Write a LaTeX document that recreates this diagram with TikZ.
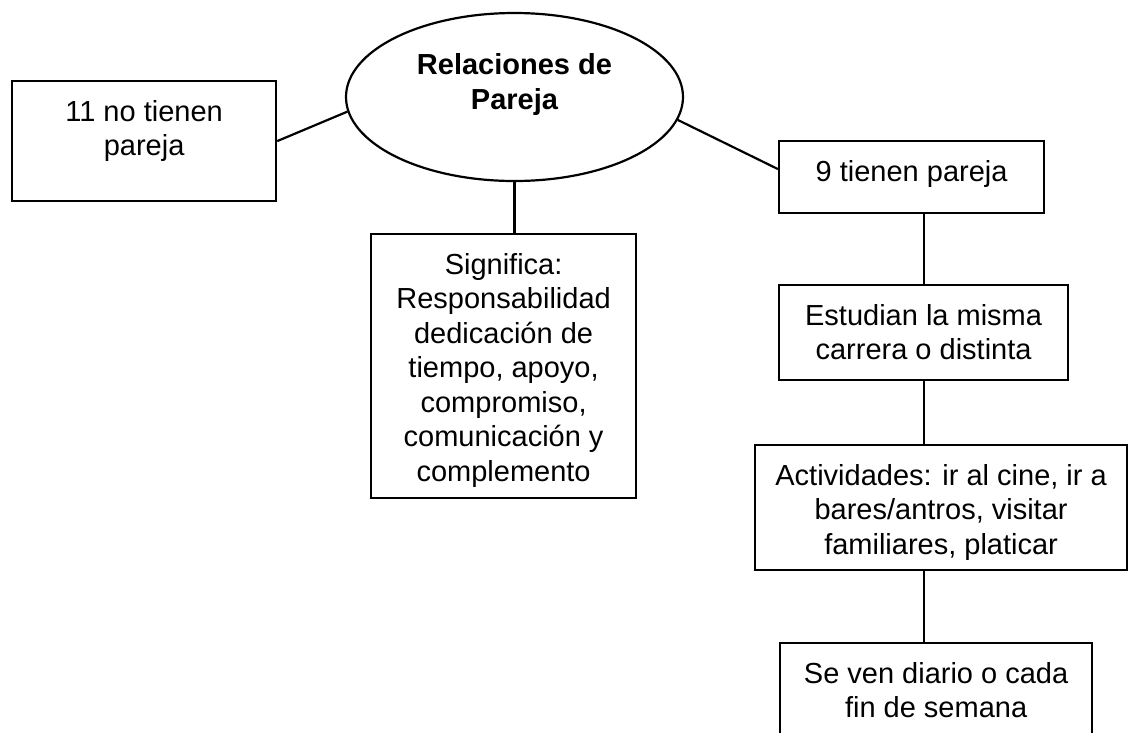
\documentclass[tikz,border=0pt]{standalone}
\usepackage{fontspec}
\setmainfont{Liberation Sans}
\usetikzlibrary{shapes.geometric}
\newcommand\bxt[3]{\parbox[c][#2][t]{#1}{\centering\vspace*{19pt}#3}}
\begin{document}
\begin{tikzpicture}[x=1pt,y=-1pt,
  every node/.style={font=\fontsize{29}{34.5}\selectfont},
  bx/.style={draw, line width=2.2pt, inner sep=0pt, anchor=north west},
  ln/.style={line width=2.2pt}]
\useasboundingbox (0,0) rectangle (1128,732);
\clip (0,0) rectangle (1128,732);
\node[bx] (b1) at (11,80) {\bxt{264pt}{120pt}{11 no tienen\\pareja}};
\node[ellipse, draw, line width=2.2pt, minimum width=337pt, minimum height=168pt, inner sep=0pt] (rel) at (514.5,97) {};
\node[font=\fontsize{29}{35}\selectfont\bfseries, align=center, anchor=north, inner sep=0pt] (relt) at (514.5,53) {Relaciones de\\Pareja};
\node[bx] (sig) at (370,233) {\bxt{265pt}{264pt}{Significa:\\Responsabilidad\\dedicación de\\tiempo, apoyo,\\compromiso,\\comunicación y\\complemento}};
\node[bx] (nine) at (778,140) {\bxt{265pt}{72pt}{9 tienen pareja}};
\node[bx] (est) at (778,284) {\bxt{289pt}{95pt}{Estudian la misma\\carrera o distinta}};
\node[bx] (act) at (754,444) {\bxt{372pt}{125pt}{Actividades: ir al cine, ir a\\bares/antros, visitar\\familiares, platicar}};
\node[bx] (sev) at (779,642) {\bxt{312pt}{110pt}{Se ven diario o cada\\fin de semana}};
\draw[ln] (b1.east) -- (rel.185.5);
\draw[ln] (rel.352) -- ([yshift=8pt]nine.west);
\draw[ln] (rel.south) -- (rel.south |- sig.north);
\draw[ln] (est.north |- nine.south) -- (est.north);
\draw[ln] (est.south) -- (est.south |- act.north);
\draw[ln] (est.south |- act.south) -- (est.south |- sev.north);
\end{tikzpicture}
\end{document}
